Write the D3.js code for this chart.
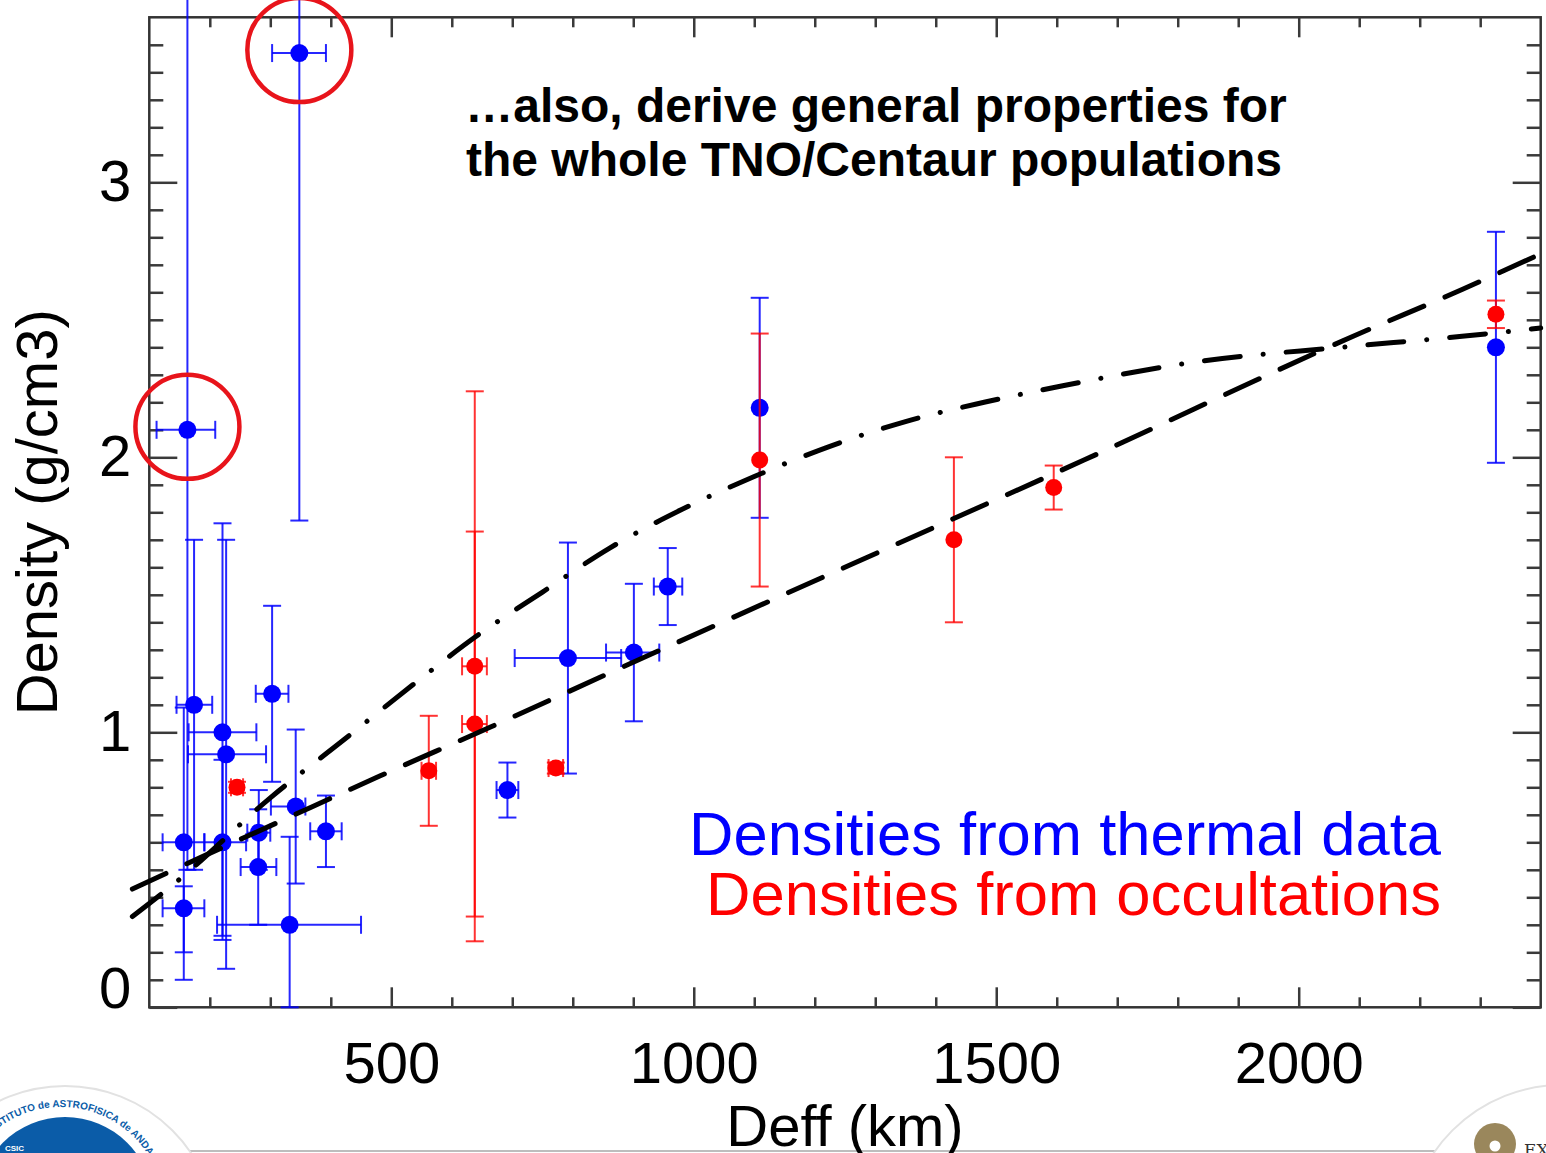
<!DOCTYPE html>
<html>
<head>
<meta charset="utf-8">
<title>TNO / Centaur densities</title>
<style>
  body { margin: 0; background: #fff; }
  svg { display: block; font-family: 'Liberation Sans', Arial, Helvetica, sans-serif; }
  .axis path { display: none; }
  .axis line { stroke: #3a3a3a; stroke-width: 2.5; }
  .axis text { font-size: 58px; fill: #000; font-family: 'Liberation Sans', Arial, sans-serif; }
</style>
</head>
<body>
<div id="chart"></div>
<script src="https://d3js.org/d3.v7.min.js"></script>
<script>
// densities from thermal data (blue)
var thermalD      = [163, 348, 174, 221, 227, 221, 303, 281, 280, 332, 342, 392, 157, 157, 692, 792, 901, 957, 1109, 2326];
var thermalRho    = [2.10, 3.47, 1.10, 1.00, 0.92, 0.60, 1.14, 0.635, 0.51, 0.30, 0.73, 0.64, 0.60, 0.36, 0.79, 1.27, 1.29, 1.53, 2.18, 2.40];
var thermalDLo    = [112, 303, 145, 165, 164, 191, 276, 262, 251, 212, 301, 366, 122, 122, 674, 704, 855, 934, null, null];
var thermalDHi    = [209, 392, 204, 277, 293, 260, 330, 300, 310, 450, 358, 418, 191, 191, 710, 880, 943, 981, null, null];
var thermalRhoLo  = [0.50, 1.77, 0.50, 0.26, 0.14, 0.245, 0.82, 0.50, 0.30, 0.0, 0.45, 0.51, 0.20, 0.10, 0.69, 0.85, 1.04, 1.39, 1.78, 1.98];
var thermalRhoHi  = [3.80, 3.80, 1.70, 1.76, 1.70, 0.90, 1.46, 0.79, 0.72, 0.62, 1.01, 0.77, 1.09, 0.44, 0.89, 1.69, 1.54, 1.67, 2.58, 2.82];

// densities from occultations (red)
var occultD      = [245, 562, 638, 638, 772, 1109, 1430, 1595, 2326];
var occultRho    = [0.80, 0.86, 1.03, 1.24, 0.87, 1.99, 1.70, 1.89, 2.52];
var occultDLo    = [235, 550, 617, 617, 760, null, null, null, null];
var occultDHi    = [255, 574, 658, 658, 784, null, null, null, null];
var occultRhoLo  = [0.78, 0.66, 0.24, 0.33, 0.85, 1.53, 1.40, 1.81, 2.47];
var occultRhoHi  = [0.82, 1.06, 1.73, 2.24, 0.89, 2.45, 2.00, 1.97, 2.57];

// fitted trends
var dashD       = [72, 160, 310, 480, 665, 845, 1260, 1645, 2090, 2270, 2400];
var dashRho     = [0.43, 0.52, 0.67, 0.84, 1.02, 1.20, 1.61, 1.99, 2.44, 2.61, 2.74];
var dashDotD    = [72, 147, 299, 420, 534, 641, 750, 861, 980, 1100, 1225, 1350, 1480, 1610, 1840, 2070, 2270, 2400];
var dashDotRho  = [0.33, 0.46, 0.76, 0.97, 1.17, 1.35, 1.51, 1.67, 1.81, 1.93, 2.04, 2.13, 2.20, 2.26, 2.35, 2.40, 2.44, 2.47];

// circled outliers (index into thermal arrays)
var circled = [1, 0];

var xTicks = [500, 1000, 1500, 2000];
var yTicks = [0, 1, 2, 3];

var width = 1546, height = 1153;

var svg = d3.select('#chart').append('svg')
    .attr('width', width)
    .attr('height', height);

var x = d3.scaleLinear().domain([100, 2400]).range([149.3, 1540.7]);
var y = d3.scaleLinear().domain([0, 3.6]).range([1007.3, 17.3]);

var xMinor = d3.range(200, 2400, 100).filter(function(d) { return d % 500 != 0; });
var yMinor = d3.range(1, 36).filter(function(i) { return i % 10 != 0; }).map(function(i) { return i / 10; });

// slide decorations at the bottom
var deco = svg.append('g');
deco.append('line')
    .attr('x1', 170).attr('x2', 1440).attr('y1', 1151).attr('y2', 1151)
    .attr('stroke', '#bdbdbd').attr('stroke-width', 2);
deco.append('circle').attr('cx', 65).attr('cy', 1238).attr('r', 152)
    .attr('fill', '#fff').attr('stroke', '#e2e2e2').attr('stroke-width', 2);
deco.append('circle').attr('cx', 65).attr('cy', 1205).attr('r', 88)
    .attr('fill', '#0b5ca8');
deco.append('path').attr('id', 'logoArc')
    .attr('d', 'M -40,1185 A 104,104 0 0,1 160,1180')
    .attr('fill', 'none');
deco.append('text')
    .attr('font-size', 10).attr('font-weight', 'bold').attr('fill', '#0b5ca8')
  .append('textPath').attr('href', '#logoArc').attr('startOffset', '22%')
    .text('INSTITUTO de ASTROFISICA de ANDALUCIA');
deco.append('text').attr('x', 5).attr('y', 1151)
    .attr('font-size', 8).attr('font-weight', 'bold').attr('fill', '#fff').text('CSIC');
deco.append('circle').attr('cx', 1562).attr('cy', 1240).attr('r', 155)
    .attr('fill', '#fff').attr('stroke', '#e2e2e2').attr('stroke-width', 2);
deco.append('circle').attr('cx', 1495).attr('cy', 1144).attr('r', 21).attr('fill', '#9a875c');
deco.append('circle').attr('cx', 1495).attr('cy', 1146).attr('r', 5.5).attr('fill', '#fff');
deco.append('text').attr('x', 1524).attr('y', 1156)
    .attr('font-family', 'DejaVu Serif, serif').attr('font-size', 17).attr('fill', '#333').text('EX');

// frame
svg.append('rect')
    .attr('x', x(100)).attr('y', y(3.6))
    .attr('width', x(2400) - x(100)).attr('height', y(0) - y(3.6))
    .attr('fill', 'none').attr('stroke', '#333').attr('stroke-width', 2.5);

// axes, ticks pointing inwards on all four sides
var gX = svg.append('g').attr('class', 'axis')
    .attr('transform', 'translate(0,' + y(0) + ')')
    .call(d3.axisBottom(x).tickValues(xTicks).tickSize(-20).tickPadding(35).tickFormat(d3.format('d')));
svg.append('g').attr('class', 'axis')
    .attr('transform', 'translate(0,' + y(0) + ')')
    .call(d3.axisBottom(x).tickValues(xMinor).tickSize(-10).tickFormat(''));
svg.append('g').attr('class', 'axis')
    .attr('transform', 'translate(0,' + y(3.6) + ')')
    .call(d3.axisTop(x).tickValues(xTicks).tickSize(-20).tickFormat(''));
svg.append('g').attr('class', 'axis')
    .attr('transform', 'translate(0,' + y(3.6) + ')')
    .call(d3.axisTop(x).tickValues(xMinor).tickSize(-10).tickFormat(''));

var gY = svg.append('g').attr('class', 'axis')
    .attr('transform', 'translate(' + x(100) + ',0)')
    .call(d3.axisLeft(y).tickValues(yTicks).tickSize(-28).tickPadding(18).tickFormat(d3.format('d')));
svg.append('g').attr('class', 'axis')
    .attr('transform', 'translate(' + x(100) + ',0)')
    .call(d3.axisLeft(y).tickValues(yMinor).tickSize(-14).tickFormat(''));
svg.append('g').attr('class', 'axis')
    .attr('transform', 'translate(' + x(2400) + ',0)')
    .call(d3.axisRight(y).tickValues(yTicks).tickSize(-28).tickFormat(''));
svg.append('g').attr('class', 'axis')
    .attr('transform', 'translate(' + x(2400) + ',0)')
    .call(d3.axisRight(y).tickValues(yMinor).tickSize(-14).tickFormat(''));

// the zero label sits on the axis line instead of centred on it
gY.selectAll('.tick text').filter(function(d) { return d == 0; }).attr('dy', '0');

// axis titles
svg.append('text')
    .attr('x', (x(100) + x(2400)) / 2).attr('y', 1146)
    .attr('text-anchor', 'middle').attr('font-size', 58)
    .text('Deff (km)');
svg.append('text')
    .attr('transform', 'translate(57,' + (y(0) + y(3.6)) / 2 + ') rotate(-90)')
    .attr('text-anchor', 'middle').attr('font-size', 58)
    .text('Density (g/cm3)');

function rows(D, rho, dLo, dHi, rLo, rHi) {
  return D.map(function(d, i) {
    return {D: d, rho: rho[i], dLo: dLo[i], dHi: dHi[i], rLo: rLo[i], rHi: rHi[i]};
  });
}

var cap = 9;

function drawSet(data, color, r, lineOpacity) {
  var g = svg.append('g');
  var pt = g.selectAll('g').data(data).enter().append('g')
      .attr('stroke', color).attr('stroke-width', 2).attr('stroke-opacity', lineOpacity);

  pt.append('line')
      .attr('x1', function(d) { return x(d.D); }).attr('x2', function(d) { return x(d.D); })
      .attr('y1', function(d) { return y(d.rLo); }).attr('y2', function(d) { return y(d.rHi); });
  pt.append('line')
      .attr('x1', function(d) { return x(d.D) - cap; }).attr('x2', function(d) { return x(d.D) + cap; })
      .attr('y1', function(d) { return y(d.rLo); }).attr('y2', function(d) { return y(d.rLo); });
  pt.append('line')
      .attr('x1', function(d) { return x(d.D) - cap; }).attr('x2', function(d) { return x(d.D) + cap; })
      .attr('y1', function(d) { return y(d.rHi); }).attr('y2', function(d) { return y(d.rHi); });

  var hx = pt.filter(function(d) { return d.dLo != null; });
  hx.append('line')
      .attr('x1', function(d) { return x(d.dLo); }).attr('x2', function(d) { return x(d.dHi); })
      .attr('y1', function(d) { return y(d.rho); }).attr('y2', function(d) { return y(d.rho); });
  hx.append('line')
      .attr('x1', function(d) { return x(d.dLo); }).attr('x2', function(d) { return x(d.dLo); })
      .attr('y1', function(d) { return y(d.rho) - cap; }).attr('y2', function(d) { return y(d.rho) + cap; });
  hx.append('line')
      .attr('x1', function(d) { return x(d.dHi); }).attr('x2', function(d) { return x(d.dHi); })
      .attr('y1', function(d) { return y(d.rho) - cap; }).attr('y2', function(d) { return y(d.rho) + cap; });

  g.selectAll('circle').data(data).enter().append('circle')
      .attr('cx', function(d) { return x(d.D); })
      .attr('cy', function(d) { return y(d.rho); })
      .attr('r', r)
      .attr('fill', color);
}

var thermal = rows(thermalD, thermalRho, thermalDLo, thermalDHi, thermalRhoLo, thermalRhoHi);
var occult = rows(occultD, occultRho, occultDLo, occultDHi, occultRhoLo, occultRhoHi);

drawSet(thermal, '#0000ff', 9, 0.85);
drawSet(occult, '#ff0000', 8.5, 0.8);

// trend lines
var line = d3.line()
    .x(function(d) { return x(d[0]); })
    .y(function(d) { return y(d[1]); })
    .curve(d3.curveMonotoneX);

svg.append('path')
    .datum(dashD.map(function(d, i) { return [d, dashRho[i]]; }))
    .attr('d', line)
    .attr('fill', 'none').attr('stroke', '#000').attr('stroke-width', 5)
    .attr('stroke-linecap', 'round')
    .attr('stroke-dasharray', '37,23');

svg.append('path')
    .datum(dashDotD.map(function(d, i) { return [d, dashDotRho[i]]; }))
    .attr('d', line)
    .attr('fill', 'none').attr('stroke', '#000').attr('stroke-width', 5)
    .attr('stroke-linecap', 'round')
    .attr('stroke-dasharray', '36,23,0.1,23');

// red rings round the two outliers
svg.selectAll('circle.ring').data(circled).enter().append('circle')
    .attr('class', 'ring')
    .attr('cx', function(i) { return x(thermalD[i]); })
    .attr('cy', function(i) { return y(thermalRho[i]) - 3; })
    .attr('r', 52)
    .attr('fill', 'none').attr('stroke', '#e8141b').attr('stroke-width', 4.5);

// slide heading
var heading = svg.append('text')
    .attr('text-anchor', 'middle').attr('font-size', 48).attr('font-weight', 'bold');
heading.append('tspan').attr('x', 876).attr('y', 122).text('\u2026also, derive general properties for');
heading.append('tspan').attr('x', 874).attr('y', 176).text('the whole TNO/Centaur populations');

// legend
svg.append('text')
    .attr('x', 1441).attr('y', 855).attr('text-anchor', 'end')
    .attr('font-size', 61.5).attr('fill', '#0000ff')
    .text('Densities from thermal data');
svg.append('text')
    .attr('x', 1441).attr('y', 915).attr('text-anchor', 'end')
    .attr('font-size', 61.5).attr('fill', '#ff0000')
    .text('Densities from occultations');
</script>
</body>
</html>
